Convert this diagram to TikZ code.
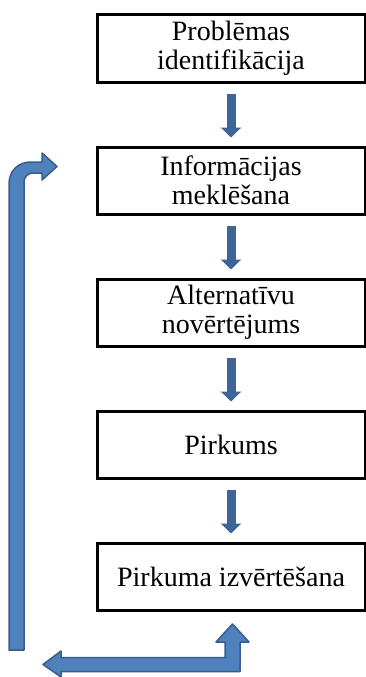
\documentclass[tikz,border=0pt]{standalone}
\usepackage{fontspec}
\setmainfont{Liberation Serif}
\usetikzlibrary{positioning,arrows.meta}
\definecolor{downblue}{HTML}{3E6498}
\definecolor{loopfill}{HTML}{4F81BD}
\definecolor{loopedge}{HTML}{385D8A}

\begin{document}
\begin{tikzpicture}[x=1pt, y=-1pt, font=\fontsize{28}{29}\selectfont,
  node distance=62pt,
  stage/.style={draw, line width=3pt, minimum width=268pt, minimum height=67pt,
    align=center, inner sep=0pt},
  down/.style={downblue, line width=9pt, -{Triangle[length=10pt,width=20pt]},
    shorten <=10pt, shorten >=8pt},
  bent/.style={fill=loopfill, draw=loopedge, line width=1.5pt, line join=round}]
  \useasboundingbox (0,0) rectangle (366,677);

  \node[stage] (prob) at (231,48.5) {Problēmas\\identifikācija};
  \node[stage, below=of prob] (info) {Informācijas\\meklēšana};
  \node[stage, below=of info] (alt)  {Alternatīvu\\novērtējums};
  \node[stage, below=of alt]  (pirk) {Pirkums};
  \node[stage, below=of pirk] (izv)  {Pirkuma izvērtēšana};

  \draw[down] (prob) -- (info);
  \draw[down] (info) -- (alt);
  \draw[down] (alt)  -- (pirk);
  \draw[down] (pirk) -- (izv);

  % feedback loop
  \filldraw[bent] (43,664.5) -- (61,651) -- (61,657.5) -- (225,657.5) -- (225,642)
    -- (216,642) -- (232.5,624) -- (249,642) -- (240,642) -- (240,671.5)
    -- (61,671.5) -- (61,677) -- cycle;
  \filldraw[bent] (9,650) -- (9,184) .. controls (9,171) and (18,162) .. (31,162)
    -- (42,162) -- (42,153) -- (57,166.5) -- (42,180) -- (42,173) -- (33,173)
    .. controls (28,173) and (24,177) .. (24,182) -- (24,650) -- cycle;
\end{tikzpicture}
\end{document}
